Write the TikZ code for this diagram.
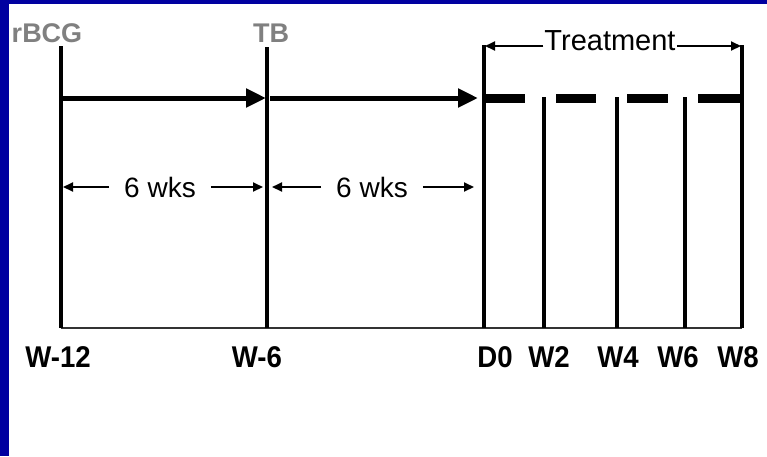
\documentclass[tikz,border=0pt]{standalone}
\usepackage{fontspec}
\setmainfont{Liberation Sans}
\newfontfamily\narrowfont[FakeStretch=0.92]{Liberation Sans}
\usetikzlibrary{arrows.meta}
\definecolor{bordblue}{RGB}{0,0,160}
\definecolor{toplabel}{RGB}{128,128,128}
\begin{document}
\begin{tikzpicture}[x=1pt,y=-1pt,
  tick/.style={line width=4pt},
  baseline/.style={line width=1.5pt, black!80},
  bigarrow/.style={line width=5pt, -{Triangle[length=20pt,width=18pt]}},
  dashbar/.style={line width=9pt},
  thinarrow/.style={line width=2pt, -{Triangle[length=10pt,width=9pt]}},
  toptext/.style={font=\fontsize{27}{27}\selectfont\bfseries, text=toplabel, inner sep=0pt},
  midtext/.style={font=\fontsize{28}{28}\selectfont, text=black, inner ysep=0pt, inner xsep=15pt},
  trtext/.style={font=\fontsize{29}{29}\selectfont, text=black, inner ysep=0pt, inner xsep=1pt},
  bottext/.style={font=\narrowfont\fontsize{30}{30}\selectfont\bfseries, inner sep=0pt}
]
\useasboundingbox (0,0) rectangle (767,456);
\fill[white] (0,0) rectangle (767,456);
\fill[bordblue] (0,0) rectangle (767,4);
\fill[bordblue] (0,0) rectangle (9,456);

% tick coordinates
\coordinate (t1) at (61,46);   \coordinate (b1) at (61,328);
\coordinate (t2) at (267,47);  \coordinate (b2) at (267,328);
\coordinate (t3) at (484,45);  \coordinate (b3) at (484,328);
\coordinate (t4) at (544,97);  \coordinate (b4) at (544,328);
\coordinate (t5) at (617,97);  \coordinate (b5) at (617,328);
\coordinate (t6) at (685,97);  \coordinate (b6) at (685,328);
\coordinate (t7) at (742,45);  \coordinate (b7) at (742,328);

\draw[baseline] (b1) -- (b7);
\foreach \i in {1,...,7} {\draw[tick] (t\i) -- (b\i);}

% top labels
\node[toptext] (rbcg) at (47,33) {rBCG};
\node[toptext] (tb) at (271,33) {TB};

% thick arrows
\coordinate (a1s) at (61,98);  \coordinate (a1e) at (266,98);
\coordinate (a2s) at (270,98); \coordinate (a2e) at (478,98);
\draw[bigarrow] (a1s) -- (a1e);
\draw[bigarrow] (a2s) -- (a2e);

% treatment dashes
\coordinate (d1s) at (484,98); \coordinate (d1e) at (525,98);
\coordinate (d2s) at (556,98); \coordinate (d2e) at (596,98);
\coordinate (d3s) at (627,98); \coordinate (d3e) at (668,98);
\coordinate (d4s) at (698,98); \coordinate (d4e) at (742,98);
\draw[dashbar] (d1s) -- (d1e);
\draw[dashbar] (d2s) -- (d2e);
\draw[dashbar] (d3s) -- (d3e);
\draw[dashbar] (d4s) -- (d4e);

% treatment bracket
\node[trtext, anchor=base] (treat) at (610,50) {Treatment};
\coordinate (trl) at (485,46);
\coordinate (trr) at (741,46);
\draw[thinarrow] (treat.west |- trl) -- (trl);
\draw[thinarrow] (treat.east |- trr) -- (trr);

% 6 wks
\node[midtext] (wk1) at (160,187) {6 wks};
\node[midtext] (wk2) at (372,187) {6 wks};
\coordinate (wk1l) at (63,187);  \coordinate (wk1r) at (263,187);
\coordinate (wk2l) at (272,187); \coordinate (wk2r) at (474,187);
\draw[thinarrow] (wk1.west) -- (wk1l);
\draw[thinarrow] (wk1.east) -- (wk1r);
\draw[thinarrow] (wk2.west) -- (wk2l);
\draw[thinarrow] (wk2.east) -- (wk2r);

% bottom labels
\node[bottext] (lw12) at (58,357) {W-12};
\node[bottext] (lw6) at (257,357) {W-6};
\node[bottext] (ld0) at (495,357) {D0};
\node[bottext] (lw2) at (549,357) {W2};
\node[bottext] (lw4) at (618,357) {W4};
\node[bottext] (lwsix) at (678,357) {W6};
\node[bottext] (lw8) at (738,357) {W8};
\end{tikzpicture}
\end{document}
